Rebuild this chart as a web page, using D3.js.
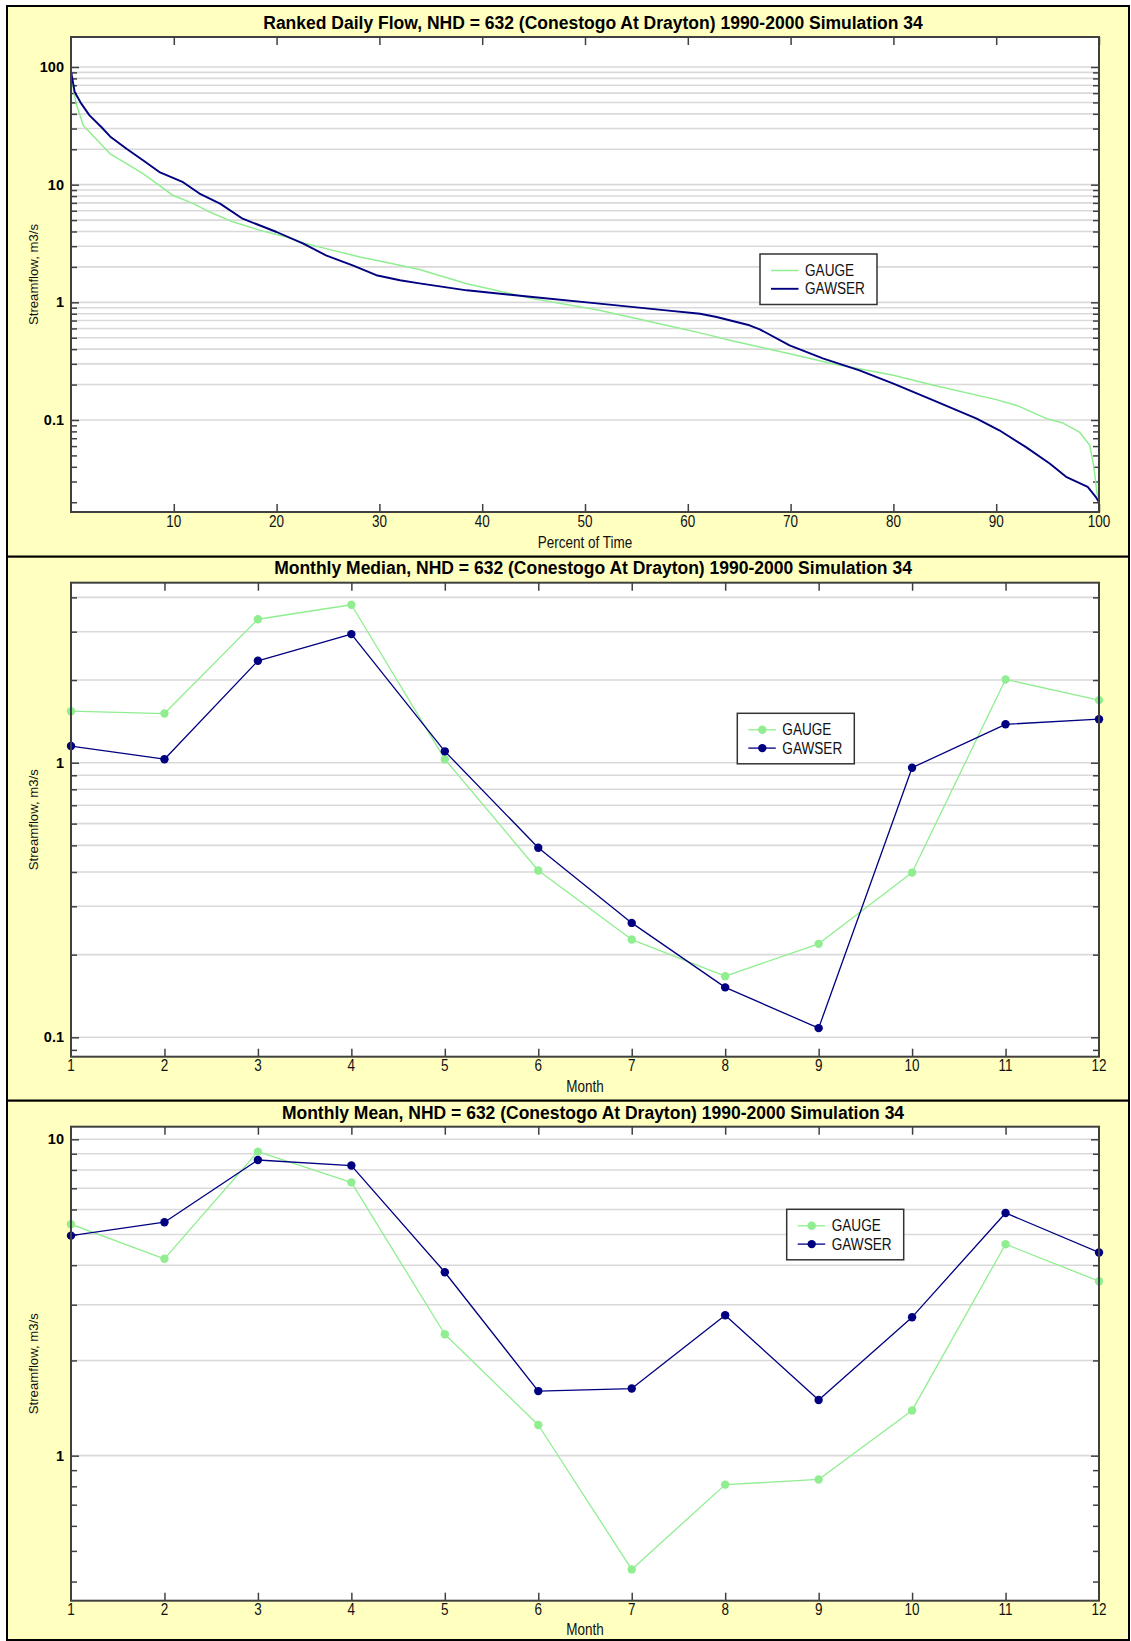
<!DOCTYPE html>
<html><head><meta charset="utf-8">
<script src="https://cdn.jsdelivr.net/npm/d3@7"></script>
<style>html,body{margin:0;padding:0;background:#fff;} svg{display:block;}</style>
</head><body>
<svg id="c" width="1131" height="1641"></svg>
<script>
// ---------------- DATA ----------------
const seriesNames = ["GAUGE", "GAWSER"];

const rankedGaugePct  = [0, 0.5, 1.2, 2.1, 3.8, 5.4, 7.0, 8.6, 9.9, 11.9, 13.5, 15.8, 18.4, 21.0, 22.6, 24.8, 28.1, 31.3, 33.9, 38.5, 44.9, 51.4, 57.9, 61.2, 64.4, 67.0, 69.9, 74.1, 80.0, 83.9, 90.0, 92.0, 94.9, 96.5, 98.1, 99.1, 99.5, 99.8, 100];
const rankedGaugeFlow = [85, 48.8, 31.9, 26.3, 18.3, 15.1, 12.4, 9.87, 8.12, 6.9, 5.85, 4.81, 4.09, 3.59, 3.19, 2.86, 2.43, 2.13, 1.9, 1.44, 1.075, 0.855, 0.638, 0.55, 0.47, 0.417, 0.366, 0.301, 0.24, 0.197, 0.149, 0.133, 0.1027, 0.0942, 0.079, 0.061, 0.040, 0.024, 0.021];
const rankedGawserPct  = [0, 0.36, 1.0, 1.8, 2.95, 3.8, 5.4, 7.0, 8.6, 10.9, 12.5, 14.5, 16.7, 20.0, 22.6, 24.8, 27.4, 29.7, 32.0, 33.9, 38.5, 44.9, 51.4, 57.9, 61.2, 62.8, 66.0, 67.0, 69.9, 73.2, 76.7, 80.0, 83.9, 88.1, 90.3, 92.9, 95.2, 96.8, 98.9, 99.7, 100];
const rankedGawserFlow = [92, 61.3, 48.8, 38.8, 30.9, 25.7, 20.2, 16.1, 12.8, 10.5, 8.4, 6.9, 5.14, 3.96, 3.15, 2.51, 2.06, 1.70, 1.54, 1.45, 1.265, 1.11, 0.975, 0.855, 0.80, 0.75, 0.638, 0.59, 0.431, 0.332, 0.264, 0.204, 0.147, 0.1027, 0.0817, 0.0588, 0.0426, 0.0329, 0.027, 0.0221, 0.020];

const months = [1, 2, 3, 4, 5, 6, 7, 8, 9, 10, 11, 12];
const medianGauge  = [1.54, 1.51, 3.33, 3.76, 1.03, 0.405, 0.227, 0.167, 0.219, 0.398, 2.01, 1.69];
const medianGawser = [1.15, 1.03, 2.35, 2.94, 1.10, 0.49, 0.261, 0.152, 0.108, 0.959, 1.38, 1.44];
const meanGauge    = [5.39, 4.19, 9.14, 7.31, 2.42, 1.25, 0.437, 0.81, 0.841, 1.39, 4.66, 3.56];
const meanGawser   = [4.96, 5.47, 8.60, 8.26, 3.80, 1.60, 1.63, 2.78, 1.50, 2.74, 5.85, 4.39];

const rankedXTicks = [10, 20, 30, 40, 50, 60, 70, 80, 90, 100];
const monthXTicks = [1, 2, 3, 4, 5, 6, 7, 8, 9, 10, 11, 12];
const rankedYLabels = [0.1, 1, 10, 100];
const medianYLabels = [0.1, 1];
const meanYLabels = [1, 10];

const titles = [
  "Ranked Daily Flow, NHD = 632 (Conestogo At Drayton) 1990-2000 Simulation 34",
  "Monthly Median, NHD = 632 (Conestogo At Drayton) 1990-2000 Simulation 34",
  "Monthly Mean, NHD = 632 (Conestogo At Drayton) 1990-2000 Simulation 34"
];
const yAxisLabel = "Streamflow, m3/s";
const xAxisLabels = ["Percent of Time", "Month", "Month"];

// ---------------- STYLE / LAYOUT ----------------
const FONT = "'Liberation Sans', Arial, Helvetica, sans-serif";
const SY = 1.17;
const colors = { GAUGE: "#90EE90", GAWSER: "#000080" };
const PANEL_BG = "#FFFFC0";
const AXIS_COL = "#404040";
const GRID_COL = "#d9d9d9";
const X0 = 71, X1 = 1099;

const panels = [
  { top: 6, bottom: 556.7, plotTop: 37, plotBottom: 512, yDom: [0.01652, 179.9], xDom: [0, 100],
    xTicks: rankedXTicks, xInner: rankedXTicks, yLabels: rankedYLabels, title: titles[0], titleY: 29.3,
    xTickY: 526.7, xLabel: xAxisLabels[0], xLabelY: 548, legend: [760, 254], markers: false,
    series: [ { name: "GAUGE", xs: rankedGaugePct, ys: rankedGaugeFlow, w: 1.5 },
              { name: "GAWSER", xs: rankedGawserPct, ys: rankedGawserFlow, w: 1.9 } ] },
  { top: 556.7, bottom: 1100.7, plotTop: 582.7, plotBottom: 1056.7, yDom: [0.0850, 4.524], xDom: [1, 12],
    xTicks: monthXTicks, xInner: monthXTicks.slice(1, -1), yLabels: medianYLabels, title: titles[1], titleY: 574,
    xTickY: 1071, xLabel: xAxisLabels[1], xLabelY: 1092, legend: [737.3, 713.3], markers: true,
    series: [ { name: "GAUGE", xs: months, ys: medianGauge, w: 1.3 },
              { name: "GAWSER", xs: months, ys: medianGawser, w: 1.3 } ] },
  { top: 1100.7, bottom: 1640, plotTop: 1126.7, plotBottom: 1600.7, yDom: [0.348, 10.96], xDom: [1, 12],
    xTicks: monthXTicks, xInner: monthXTicks.slice(1, -1), yLabels: meanYLabels, title: titles[2], titleY: 1118.7,
    xTickY: 1615, xLabel: xAxisLabels[2], xLabelY: 1635, legend: [786.7, 1209.3], markers: true,
    series: [ { name: "GAUGE", xs: months, ys: meanGauge, w: 1.3 },
              { name: "GAWSER", xs: months, ys: meanGawser, w: 1.3 } ] }
];

const svg = d3.select("#c");
svg.append("rect").attr("width", 1131).attr("height", 1641).attr("fill", "#fff");

function stext(parent, x, y, str, o = {}) {
  const size = o.size || 13.5, weight = o.weight || "normal", anchor = o.anchor || "middle";
  const sy = o.sy === undefined ? SY : o.sy;
  const t = parent.append("text")
    .attr("font-family", FONT).attr("font-size", size).attr("font-weight", weight)
    .attr("text-anchor", anchor).attr("fill", o.fill || "#000").text(str);
  if (o.rotate) t.attr("transform", `translate(${x},${y}) rotate(${o.rotate}) scale(${sy},1)`);
  else t.attr("transform", `translate(${x},${y}) scale(1,${sy})`);
  return t;
}

function logValues(dom) {
  const out = [];
  for (let e = -3; e <= 3; e++) {
    for (let k = 1; k <= 9; k++) {
      const v = +(k * Math.pow(10, e)).toPrecision(6);
      if (v >= dom[0] * 0.9999 && v <= dom[1] * 1.0001) out.push(v);
    }
  }
  return out;
}

panels.forEach((p, pi) => {
  const g = svg.append("g");
  g.append("rect").attr("x", 7).attr("y", p.top).attr("width", 1122).attr("height", p.bottom - p.top)
    .attr("fill", PANEL_BG).attr("stroke", "#000").attr("stroke-width", 2);

  const x = d3.scaleLinear().domain(p.xDom).range([X0, X1]);
  const y = d3.scaleLog().domain(p.yDom).range([p.plotBottom, p.plotTop]);

  g.append("rect").attr("x", X0).attr("y", p.plotTop).attr("width", X1 - X0).attr("height", p.plotBottom - p.plotTop)
    .attr("fill", "#fff");

  const allVals = logValues(p.yDom);
  const gridFrom = d3.min(p.yLabels);
  const majors = allVals.filter(v => p.yLabels.includes(v));
  const minors = allVals.filter(v => !p.yLabels.includes(v));

  g.append("g").selectAll("line").data(allVals.filter(v => v >= gridFrom * 0.9999)).join("line")
    .attr("x1", X0).attr("x2", X1).attr("y1", d => y(d)).attr("y2", d => y(d))
    .attr("stroke", GRID_COL).attr("stroke-width", 1.6);

  function styleAxis(sel) {
    sel.select(".domain").remove();
    sel.selectAll(".tick line").attr("stroke", AXIS_COL).attr("stroke-width", 1.5);
    sel.selectAll(".tick text").remove();
  }
  g.append("g").attr("transform", `translate(${X0},0)`)
    .call(d3.axisRight(y).tickValues(minors).tickSize(6).tickFormat("")).call(styleAxis);
  g.append("g").attr("transform", `translate(${X0},0)`)
    .call(d3.axisRight(y).tickValues(majors).tickSize(8).tickFormat("")).call(styleAxis);
  g.append("g").attr("transform", `translate(${X1},0)`)
    .call(d3.axisLeft(y).tickValues(minors).tickSize(6).tickFormat("")).call(styleAxis);
  g.append("g").attr("transform", `translate(${X1},0)`)
    .call(d3.axisLeft(y).tickValues(majors).tickSize(8).tickFormat("")).call(styleAxis);
  g.append("g").attr("transform", `translate(0,${p.plotTop})`)
    .call(d3.axisBottom(x).tickValues(p.xInner).tickSize(8).tickFormat("")).call(styleAxis);
  g.append("g").attr("transform", `translate(0,${p.plotBottom})`)
    .call(d3.axisTop(x).tickValues(p.xInner).tickSize(8).tickFormat("")).call(styleAxis);

  const clipId = "clip" + pi;
  g.append("clipPath").attr("id", clipId).append("rect")
    .attr("x", X0).attr("y", p.plotTop).attr("width", X1 - X0).attr("height", p.plotBottom - p.plotTop);
  const sg = g.append("g").attr("clip-path", `url(#${clipId})`);
  p.series.forEach(s => {
    const pts = s.xs.map((xv, i) => [xv, s.ys[i]]);
    sg.append("path").datum(pts)
      .attr("d", d3.line().x(d => x(d[0])).y(d => y(d[1])))
      .attr("fill", "none").attr("stroke", colors[s.name]).attr("stroke-width", s.w)
      .attr("stroke-linejoin", "round");
    if (p.markers) {
      g.append("g").selectAll("circle").data(pts).join("circle")
        .attr("cx", d => x(d[0])).attr("cy", d => y(d[1])).attr("r", 4.2)
        .attr("fill", colors[s.name]);
    }
  });

  g.append("rect").attr("x", X0).attr("y", p.plotTop).attr("width", X1 - X0).attr("height", p.plotBottom - p.plotTop)
    .attr("fill", "none").attr("stroke", AXIS_COL).attr("stroke-width", 2);

  p.yLabels.forEach(v => {
    stext(g, X0 - 7, y(v) + 5, String(v), { size: 14.5, weight: "bold", anchor: "end", sy: 1 });
  });
  p.xTicks.forEach(v => {
    stext(g, x(v), p.xTickY, String(v), { size: 13.5, fill: "#111" });
  });
  stext(g, 593, p.titleY, p.title, { size: 17.5, weight: "bold", sy: 1 });
  stext(g, (X0 + X1) / 2, p.xLabelY, p.xLabel, { size: 13.5, fill: "#111" });
  stext(g, 38, (p.plotTop + p.plotBottom) / 2, yAxisLabel, { size: 13.2, rotate: -90, sy: 1, fill: "#111" });

  const [bx, by] = p.legend;
  const lg = g.append("g");
  lg.append("rect").attr("x", bx).attr("y", by).attr("width", 117).attr("height", 50.5)
    .attr("fill", "#fff").attr("stroke", "#333").attr("stroke-width", 1.5);
  seriesNames.forEach((n, i) => {
    const ry = by + 16.5 + i * 18.3;
    lg.append("line").attr("x1", bx + 11).attr("x2", bx + 38.5).attr("y1", ry).attr("y2", ry)
      .attr("stroke", colors[n]).attr("stroke-width", p.markers ? 1.3 : (n === "GAWSER" ? 1.9 : 1.5));
    if (p.markers) lg.append("circle").attr("cx", bx + 25).attr("cy", ry).attr("r", 4.2).attr("fill", colors[n]);
    stext(lg, bx + 45, ry + 5.5, n, { size: 13.6, anchor: "start", fill: "#111" });
  });
});
</script>
</body></html>
